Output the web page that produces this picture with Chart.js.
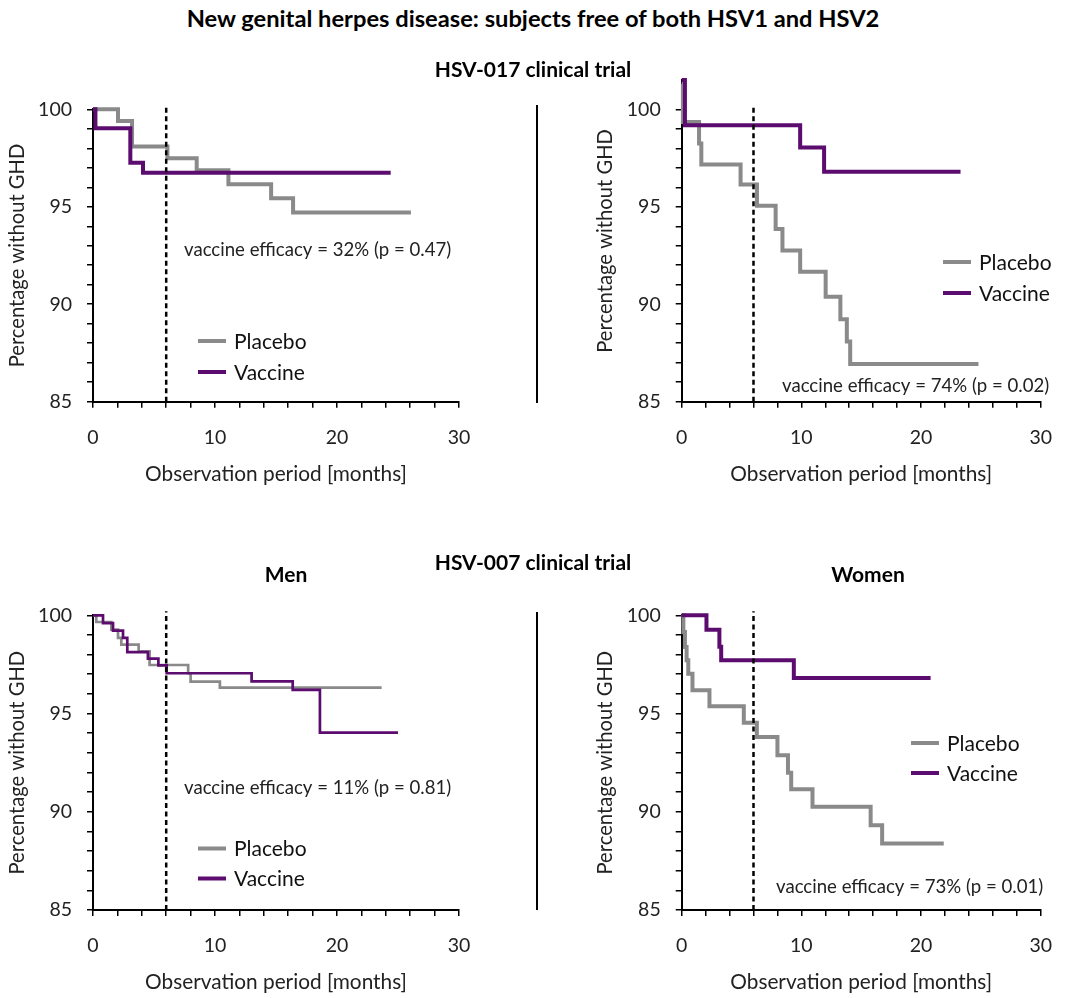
<!DOCTYPE html>
<html><head><meta charset="utf-8">
<script src="https://cdn.jsdelivr.net/npm/chart.js@4.4.1/dist/chart.umd.min.js"></script>
<style>
html,body{margin:0;padding:0;background:#fff;width:1070px;height:998px;overflow:hidden;position:relative;font-family:Lato, sans-serif;}
canvas{position:absolute;}
.t{position:absolute;transform:translate(-50%,-50%);white-space:nowrap;color:#000;font-weight:bold;}
.sep{position:absolute;width:2px;background:#000;}
</style></head><body>
<canvas id="c1"></canvas><canvas id="c2"></canvas><canvas id="c3"></canvas><canvas id="c4"></canvas>
<div class="t" style="left:533px;top:18px;font-size:23.7px">New genital herpes disease: subjects free of both HSV1 and HSV2</div>
<div class="t" style="left:533px;top:68px;font-size:21px">HSV-017 clinical trial</div>
<div class="t" style="left:533px;top:561px;font-size:21px">HSV-007 clinical trial</div>
<div class="t" style="left:286px;top:573px;font-size:21px">Men</div>
<div class="t" style="left:868px;top:573px;font-size:21px">Women</div>
<div class="sep" style="left:536px;top:105px;height:298px"></div>
<div class="sep" style="left:536px;top:612px;height:298px"></div>
<script>
// HSV-017, left panel
const timeA_placebo = [0, 2.05, 3.2, 6.1, 8.5, 11.1, 14.6, 16.4, 26.06];
const valA_placebo  = [100, 99.4, 98.09, 97.49, 96.87, 96.15, 95.44, 94.7, 94.7];
const timeA_vaccine = [0, 0.2, 3.06, 4.1, 24.4];
const valA_vaccine  = [100, 99.03, 97.26, 96.74, 96.74];
// HSV-017, right panel
const timeB_placebo = [0, 0.1, 1.45, 1.64, 4.92, 6.29, 7.85, 8.42, 9.9, 12.03, 13.26, 13.8, 14.08, 24.8];
const valB_placebo  = [101.3, 99.35, 98.24, 97.17, 96.14, 95.05, 93.86, 92.75, 91.67, 90.39, 89.23, 88.09, 86.93, 86.93];
const timeB_vaccine = [0, 0.27, 9.9, 11.9, 23.3];
const valB_vaccine  = [101.5, 99.18, 98.04, 96.79, 96.79];
// HSV-007, Men
const timeC_placebo = [0, 0.27, 1.5, 2.05, 2.32, 3.74, 4.64, 7.8, 8.0, 10.4, 23.66];
const valC_placebo  = [100, 99.66, 99.27, 98.85, 98.51, 98.17, 97.47, 97.05, 96.62, 96.32, 96.32];
const timeC_vaccine = [0, 0.82, 1.64, 2.46, 2.81, 4.5, 5.36, 6.04, 13.0, 16.37, 18.6, 25.0];
const valC_vaccine  = [100, 99.6, 99.22, 98.85, 98.13, 97.79, 97.45, 97.05, 96.64, 96.2, 94.03, 94.03];
// HSV-007, Women
const timeD_placebo = [0, 0.14, 0.27, 0.41, 0.55, 0.9, 2.32, 5.19, 6.28, 8.0, 8.88, 9.15, 10.93, 15.79, 16.75, 21.9];
const valD_placebo  = [100, 99.15, 98.39, 97.71, 97.03, 96.19, 95.37, 94.53, 93.81, 92.88, 91.98, 91.14, 90.25, 89.32, 88.39, 88.39];
const timeD_vaccine = [0, 2.07, 3.15, 3.3, 9.37, 20.8];
const valD_vaccine  = [100, 99.26, 98.4, 97.71, 96.81, 96.81];

const seriesNames = ['Placebo', 'Vaccine'];
const xLabelValues = [0, 10, 20, 30];
const yLabelValues = [85, 90, 95, 100];
const cutoffMonth = [6];
const efficacyNotes = ['vaccine efficacy = 32% (p = 0.47)', 'vaccine efficacy = 74% (p = 0.02)',
                       'vaccine efficacy = 11% (p = 0.81)', 'vaccine efficacy = 73% (p = 0.01)'];

const GRAY = '#8a8a8a', PURPLE = '#5c0b6e', FONT = 'Lato, sans-serif';
const pts = (t, v) => t.map((x, i) => ({x: x, y: v[i]}));

const overlay = {
  id: 'overlay',
  afterDatasetsDraw(chart, args, o) {
    const ctx = chart.ctx;
    ctx.save();
    const rows = [[1, GRAY], [0, PURPLE]];
    rows.forEach((r, i) => {
      const y = o.legend.y + i * o.legend.dy - o.top;
      ctx.strokeStyle = r[1]; ctx.lineWidth = 4; ctx.lineCap = 'butt';
      ctx.beginPath(); ctx.moveTo(o.legend.x1 - o.left, y); ctx.lineTo(o.legend.x2 - o.left, y); ctx.stroke();
      ctx.fillStyle = '#111'; ctx.font = o.legend.size + 'px ' + FONT; ctx.textBaseline = 'middle'; ctx.textAlign = 'left';
      ctx.fillText(chart.data.datasets[r[0]].label, o.legend.tx - o.left, y + 1);
    });
    ctx.font = o.note.size + 'px ' + FONT; ctx.fillStyle = '#222'; ctx.textBaseline = 'middle';
    ctx.fillText(o.note.text, o.note.x - o.left, o.note.y - o.top);
    ctx.restore();
  }
};

const panels = [
  {id: 'c1', rect: {left: 0, top: 60, width: 535, height: 440}, area: {left: 93, right: 459, top: 109.3, bottom: 401.7},
   yMax: 100, lw: 4, placebo: pts(timeA_placebo, valA_placebo), vaccine: pts(timeA_vaccine, valA_vaccine),
   legend: {x1: 198, x2: 226, y: 341, dy: 31, tx: 234, size: 21}, note: {text: efficacyNotes[0], x: 184, y: 250, size: 18.6}},
  {id: 'c2', rect: {left: 535, top: 40, width: 535, height: 460}, area: {left: 681.7, right: 1047.3, top: 80.05, bottom: 401.7},
   yMax: 101.5, lw: 4, placebo: pts(timeB_placebo, valB_placebo), vaccine: pts(timeB_vaccine, valB_vaccine),
   legend: {x1: 943, x2: 971, y: 262, dy: 31, tx: 979, size: 21}, note: {text: efficacyNotes[1], x: 782, y: 386, size: 18.6}},
  {id: 'c3', rect: {left: 0, top: 560, width: 535, height: 440}, area: {left: 93, right: 459, top: 615.3, bottom: 910},
   yMax: 100, lw: 2.7, placebo: pts(timeC_placebo, valC_placebo), vaccine: pts(timeC_vaccine, valC_vaccine),
   legend: {x1: 198, x2: 226, y: 848.5, dy: 30, tx: 234, size: 21}, note: {text: efficacyNotes[2], x: 184, y: 788, size: 18.6}},
  {id: 'c4', rect: {left: 535, top: 560, width: 535, height: 440}, area: {left: 681.7, right: 1047.3, top: 615.3, bottom: 910},
   yMax: 100, lw: 4, placebo: pts(timeD_placebo, valD_placebo), vaccine: pts(timeD_vaccine, valD_vaccine),
   legend: {x1: 911, x2: 939, y: 743, dy: 30, tx: 947, size: 21}, note: {text: efficacyNotes[3], x: 776, y: 887, size: 18.6}}
];

const Y_AXIS_W = 91, X_AXIS_H = 88.7;
panels.forEach(p => {
  const cv = document.getElementById(p.id);
  cv.width = p.rect.width; cv.height = p.rect.height;
  cv.style.left = p.rect.left + 'px'; cv.style.top = p.rect.top + 'px';
  cv.style.width = p.rect.width + 'px'; cv.style.height = p.rect.height + 'px';
  const pad = {
    left: p.area.left - Y_AXIS_W - p.rect.left,
    right: p.rect.left + p.rect.width - p.area.right,
    top: p.area.top - p.rect.top,
    bottom: p.rect.top + p.rect.height - p.area.bottom - X_AXIS_H
  };
  const common = {
    grid: {drawOnChartArea: false, drawTicks: true, tickLength: 6, color: '#000', lineWidth: 1.5},
    border: {display: true, color: '#000', width: 2}
  };
  new Chart(cv, {
    type: 'line',
    data: {datasets: [
      {label: seriesNames[1], data: p.vaccine, borderColor: PURPLE, borderWidth: p.lw, stepped: 'before', pointRadius: 0, fill: false, order: 1, clip: false, borderJoinStyle: 'miter'},
      {label: seriesNames[0], data: p.placebo, borderColor: GRAY, borderWidth: p.lw, stepped: 'before', pointRadius: 0, fill: false, order: 2, clip: false, borderJoinStyle: 'miter'},
      {label: 'cutoff', data: [{x: cutoffMonth[0], y: 85}, {x: cutoffMonth[0], y: 100.2}], borderColor: '#000', borderDash: [5, 3.5], borderWidth: 2.5, pointRadius: 0, order: 0, clip: false}
    ]},
    options: {
      responsive: false, animation: false, devicePixelRatio: 1,
      layout: {padding: pad},
      plugins: {legend: {display: false}, tooltip: {enabled: false},
        overlay: {left: p.rect.left, top: p.rect.top, legend: p.legend, note: p.note}},
      scales: {
        x: Object.assign({}, common, {
          type: 'linear', min: 0, max: 30,
          afterFit(s) { s.height = X_AXIS_H; },
          ticks: {stepSize: 2, autoSkip: false, maxRotation: 0, padding: 18, color: '#222', font: {family: FONT, size: 19.5},
                  callback: v => xLabelValues.includes(v) ? String(v) : ''},
          title: {display: true, text: 'Observation period [months]', color: '#222', font: {family: FONT, size: 20.8}, padding: {top: 4, bottom: 4}}
        }),
        y: Object.assign({}, common, {
          type: 'linear', min: 85, max: p.yMax,
          afterFit(s) { s.width = Y_AXIS_W; },
          afterBuildTicks(s) { s.ticks = s.ticks.filter(t => t.value <= 100); },
          ticks: {stepSize: 1, autoSkip: false, padding: 15, color: '#222', font: {family: FONT, size: 19.5},
                  callback: v => yLabelValues.includes(v) ? String(v) : ''},
          title: {display: true, text: 'Percentage without GHD', color: '#222', font: {family: FONT, size: 20.2}, padding: {top: 3, bottom: 4}}
        })
      }
    },
    plugins: [overlay]
  });
});
</script>
</body></html>
